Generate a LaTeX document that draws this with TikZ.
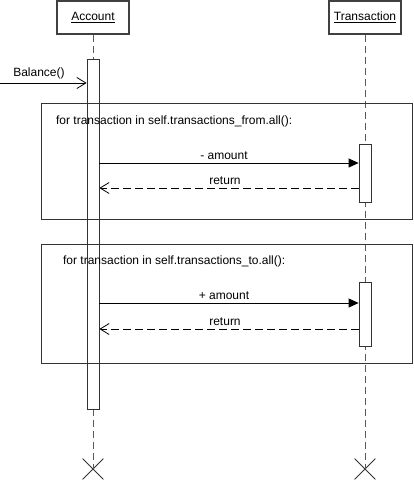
\documentclass[tikz,border=0pt]{standalone}
\usepackage{fontspec}
\setmainfont{Liberation Sans}
\usetikzlibrary{arrows.meta, shapes.misc, positioning}

\tikzset{
  object/.style={draw=black!75, line width=1.1pt, minimum width=72pt, minimum height=33pt, font=\fontsize{12}{14}\selectfont},
  lifeline/.style={draw=black!65, line width=0.9pt, dash pattern=on 7pt off 4pt},
  activation/.style={draw=black!80, line width=0.8pt, fill=white, minimum width=12pt, inner sep=0pt},
  loopframe/.style={draw=black!80, line width=0.8pt, inner sep=0pt, minimum width=371pt},
  msg/.style={font=\fontsize{12}{14}\selectfont},
  call/.style={-{Triangle[length=10pt,width=9pt]}, line width=0.8pt},
  reply/.style={-{Straight Barb[length=9pt,width=11pt]}, line width=0.8pt, dash pattern=on 8pt off 4pt},
  destroy/.style={cross out, draw=black!80, line width=0.8pt, minimum size=20pt, inner sep=0pt}
}

\begin{document}
\begin{tikzpicture}[x=1pt, y=-1pt]
\useasboundingbox (0,0) rectangle (413,480);

% objects and lifelines
\node[object] (acc) at (93,17.5) {\underline{Account}};
\node[object] (tra) at (365,17.5) {\underline{Transaction}};
\node[destroy] (acc-x) at (93,469) {};
\node[destroy] (tra-x) at (365,469) {};
\foreach \o in {acc,tra}
    \draw[lifeline] (\o.south) -- (\o-x.center);

% activations
\node[activation, minimum height=350pt] (accbar) at (93,234) {};
\node[activation, minimum height=58pt] (trabar1) at (365,173) {};
\node[activation, minimum height=64pt] (trabar2) at (365,314) {};

% loop frames
\node[loopframe, minimum height=116pt] (loop1) at (226.5,161) {};
\node[loopframe, minimum height=119pt] (loop2) at (226.5,303.5) {};
\node[msg, anchor=west] at ([xshift=12pt,yshift=-19pt]loop1.north west) {for transaction in self.transactions\_from.all():};
\node[msg, anchor=west] at ([xshift=19pt,yshift=-18pt]loop2.north west) {for transaction in self.transactions\_to.all():};

% messages
\coordinate (start) at (0,83);
\draw[-{Straight Barb[length=9pt,width=11pt]}, line width=0.8pt] (start) -- (start -| accbar.west)
    node[msg, above, pos=0.45] {Balance()};
\foreach \i/\s/\yc/\yr in {1/-/163/188, 2/+/303/329}
{
    \draw[call] (accbar.east |- 0,\yc) -- (trabar\i.west |- 0,\yc) node[msg, midway, above, xshift=-5pt] {\s{} amount};
    \draw[reply] (trabar\i.west |- 0,\yr) -- (accbar.east |- 0,\yr) node[msg, midway, above, xshift=-4pt] {return};
}
\end{tikzpicture}
\end{document}
